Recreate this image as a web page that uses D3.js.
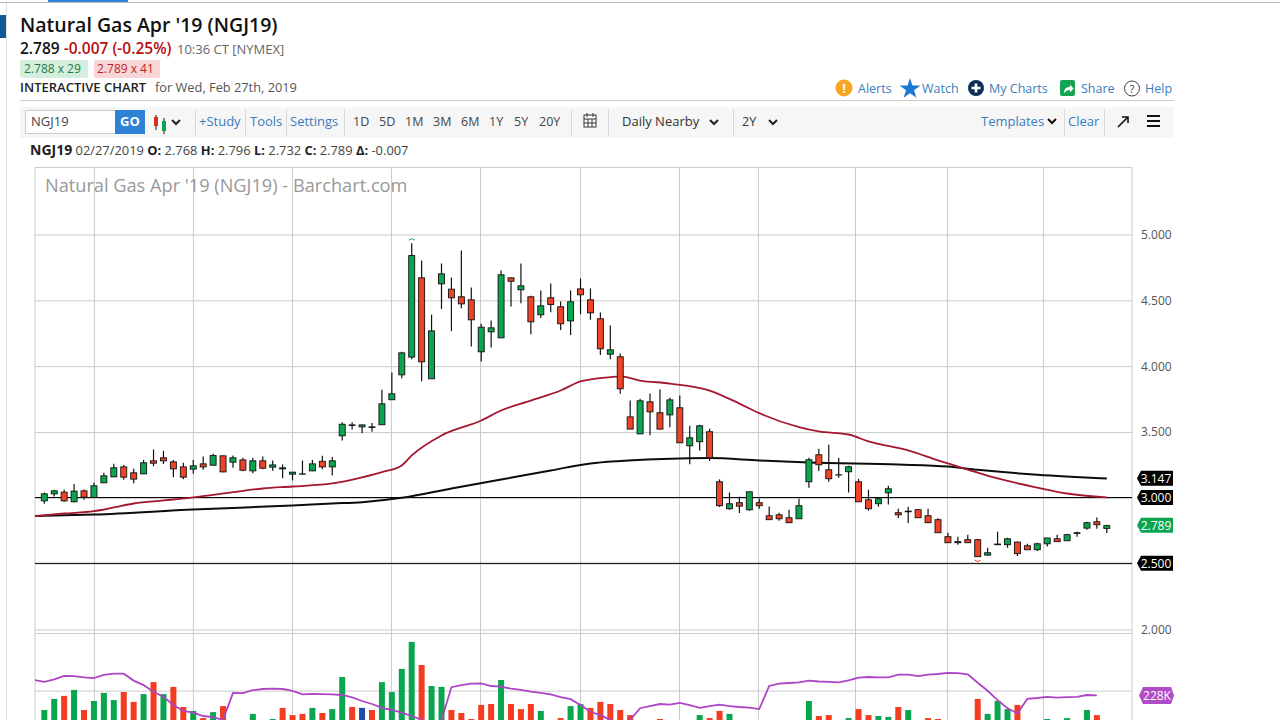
<!DOCTYPE html>
<html>
<head>
<meta charset="utf-8">
<title>NGJ19</title>
<script src="https://cdnjs.cloudflare.com/ajax/libs/d3/7.8.5/d3.min.js"></script>
<style>
  html, body { margin: 0; padding: 0; background: #fff; overflow: hidden; }
  svg { display: block; font-family: "Open Sans", sans-serif; }
  .price-axis path, .price-axis line, .month-grid path, .month-grid line { stroke: #cbcbcb; }
  .price-axis path, .month-grid path { display: none; }
  .price-axis text { font-size: 12px; fill: #555; font-family: "Open Sans", sans-serif; }
  .month-grid text { display: none; }
</style>
</head>
<body>
<svg id="canvas" width="1280" height="720"></svg>
<script>
// daily candles
const opens = [2.977,3.030,3.043,2.970,3.053,3.003,3.114,3.159,3.235,3.190,
  3.182,3.281,3.304,3.273,3.235,3.218,3.258,3.248,3.319,3.271,
  3.288,3.205,3.281,3.233,3.220,3.180,3.180,3.205,3.278,3.235,
  3.471,3.549,3.539,3.534,3.555,3.745,3.934,4.069,4.671,3.904,
  4.625,4.585,4.527,4.504,4.109,4.261,4.215,4.671,4.580,4.527,
  4.390,4.519,4.451,4.344,4.587,4.504,4.360,4.091,4.071,3.615,
  3.486,3.729,3.646,3.630,3.684,3.395,3.426,3.502,3.122,2.917,
  2.963,2.909,2.963,2.864,2.871,2.849,2.841,3.122,3.327,3.213,
  3.173,3.198,3.122,2.985,2.955,3.038,2.887,2.894,2.910,2.864,
  2.834,2.705,2.659,2.682,2.682,2.565,2.644,2.644,2.664,2.636,
  2.606,2.651,2.689,2.674,2.730,2.770,2.818,2.768];
const highs = [3.040,3.061,3.061,3.106,3.063,3.116,3.190,3.258,3.250,3.220,
  3.288,3.367,3.357,3.288,3.266,3.288,3.314,3.334,3.321,3.321,
  3.304,3.304,3.314,3.283,3.253,3.195,3.283,3.288,3.319,3.311,
  3.574,3.574,3.557,3.569,3.820,3.952,4.109,4.934,4.802,4.392,
  4.780,4.673,4.878,4.597,4.322,4.347,4.726,4.673,4.780,4.534,
  4.575,4.628,4.491,4.575,4.666,4.590,4.408,4.309,4.096,3.739,
  3.752,3.792,3.823,3.760,3.777,3.547,3.555,3.524,3.140,3.041,
  3.008,3.046,2.993,2.935,2.887,2.909,2.993,3.304,3.372,3.403,
  3.304,3.243,3.145,3.061,2.999,3.092,2.917,2.932,2.915,2.917,
  2.844,2.735,2.705,2.720,2.687,2.621,2.743,2.697,2.667,2.651,
  2.659,2.697,2.720,2.727,2.743,2.818,2.851,2.796];
const lows = [2.955,3.010,2.970,2.965,2.985,3.000,3.114,3.159,3.137,3.111,
  3.182,3.240,3.256,3.157,3.142,3.182,3.213,3.243,3.195,3.228,
  3.202,3.187,3.218,3.205,3.149,3.132,3.175,3.202,3.218,3.170,
  3.436,3.519,3.491,3.501,3.555,3.745,3.909,4.053,3.886,3.904,
  4.433,4.266,4.440,4.150,4.036,4.142,4.215,4.453,4.478,4.243,
  4.365,4.410,4.274,4.236,4.395,4.352,4.084,4.053,3.790,3.522,
  3.486,3.476,3.517,3.537,3.418,3.256,3.360,3.279,2.930,2.909,
  2.884,2.902,2.917,2.834,2.826,2.811,2.841,3.076,3.203,3.122,
  3.152,3.041,2.970,2.902,2.932,2.950,2.846,2.808,2.849,2.811,
  2.735,2.659,2.644,2.657,2.550,2.560,2.641,2.621,2.558,2.606,
  2.596,2.631,2.667,2.674,2.705,2.758,2.765,2.732];
const closes = [3.030,3.053,2.977,3.051,3.005,3.091,3.167,3.228,3.157,3.142,
  3.266,3.263,3.281,3.220,3.157,3.243,3.235,3.321,3.197,3.304,
  3.210,3.281,3.225,3.250,3.228,3.195,3.182,3.258,3.235,3.281,
  3.559,3.554,3.554,3.539,3.714,3.790,4.101,4.840,4.033,4.268,
  4.701,4.519,4.473,4.352,4.296,4.291,4.694,4.645,4.610,4.337,
  4.458,4.468,4.322,4.489,4.542,4.405,4.132,4.124,3.828,3.522,
  3.737,3.653,3.522,3.744,3.418,3.456,3.547,3.304,2.940,2.955,
  2.937,3.046,2.940,2.834,2.841,2.811,2.940,3.289,3.251,3.145,
  3.175,3.236,2.970,2.917,2.993,3.069,2.871,2.899,2.849,2.811,
  2.735,2.659,2.667,2.659,2.553,2.583,2.649,2.689,2.576,2.606,
  2.651,2.695,2.667,2.720,2.735,2.811,2.796,2.789];

// moving averages, sampled along the curves (bar number, price)
const redMaBars = [-1,2,5,7,9,12,15,19,22,25,29,32,34,36,37,40,44,46,49,52,54,57,58,60,63,67,70,72,76,78,81,83,87,90,93,96,100,103,107];
const redMaValues = [2.861,2.881,2.899,2.927,2.957,2.980,3.003,3.043,3.071,3.086,3.109,3.155,3.195,3.246,3.322,3.474,3.587,3.663,3.739,3.815,3.884,3.916,3.922,3.891,3.868,3.815,3.716,3.643,3.537,3.504,3.481,3.428,3.360,3.284,3.215,3.147,3.078,3.033,3.003];
const blackMaBars = [-1,5,15,25,29,32,36,41,46,51,55,58,64,67,72,77,86,91,94,100,107];
const blackMaValues = [2.861,2.873,2.911,2.942,2.957,2.967,3.000,3.071,3.139,3.208,3.261,3.280,3.299,3.302,3.284,3.268,3.253,3.238,3.213,3.175,3.147];

// volume (thousands) and bar colour, G up R down B unchanged
const volumes = [180,217,227,247,180,210,237,213,240,207,
  233,273,233,257,190,177,153,173,193,130,
  120,167,130,150,187,163,167,187,170,183,
  290,190,187,180,273,240,317,407,330,260,
  257,180,170,150,197,200,280,200,183,200,
  177,130,153,193,200,187,207,200,180,163,
  130,120,150,130,120,130,163,153,177,167,
  130,125,120,120,110,110,125,210,160,163,
  130,153,183,163,160,157,190,180,120,153,
  150,130,110,130,217,167,210,183,197,130,
  130,150,120,153,120,180,163,60];
const volumeDirs = ("GGRGRGGGRR" + "GRGRRGRGRR" + "RGRGRRRGRG" + "GRBRGGGGRG" + "GRRRRRGRRR" +
  "GGRGGRRRRR" + "RRRGRGGRRG" + "RGRRRRGGRR" + "RGRRGGRGRR" + "RRRRRGGGRR" + "GGRGGGRG").split("");

// open interest line, first point sits left of bar 0
const oiValues = [280,274,282,294,293,289,286,297,301,301,278,263,241,224,197,177,171,160,156,147,
  237,236,246,250,251,250,244,232,234,233,232,230,222,210,200,187,180,171,160,147,130,147,
  256,263,268,269,260,258,251,247,241,237,232,223,216,197,174,163,147,125,147,
  186,193,200,198,204,196,187,193,198,193,190,188,183,
  260,268,270,272,278,275,274,272,279,288,290,289,289,298,298,293,298,300,304,303,299,
  271,244,213,186,169,217,220,224,221,223,224,230,229];
const oiFirstBar = -1;

const priceTicks = [2, 2.5, 3, 3.5, 4, 4.5, 5];
// month starts, as bar numbers
const monthBars = [5, 14.97, 24.94, 34.91, 43.88, 53.95, 63.92, 71.88, 81.64, 90.9, 100.57];
const userLevels = [3, 2.5];
const priceTags = [
  { value: 3.147, fill: "#000" },
  { value: 3.0, fill: "#000" },
  { value: 2.789, fill: "#0aa54f" },
  { value: 2.5, fill: "#000" }
];
const oiTag = 228;
const volumeTopLine = 435;
const volumeMidLine = 243;

const rangeLabels = ["1D", "5D", "1M", "3M", "6M", "1Y", "5Y", "20Y"];
const rangeLabelX = [353, 379, 405, 433, 461, 489, 514, 539];

const GREEN = "#0aa54f";
const RED = "#ee4327";
const LINK = "#3a7dbd";
const VOL_COLORS = { G: "#0aa54f", R: "#f43c20", B: "#2249a6" };

const svg = d3.select("#canvas");
const panelLeft = 35, panelRight = 1132, panelTop = 167.5, panelBottom = 720;

const x = d3.scaleLinear().domain([0, 107]).range([44.3, 1106.8]);
const y = d3.scaleLinear().domain([2, 5]).range([629.5, 234.5]);
const yVol = d3.scaleLinear().domain([0, 440]).range([764, 632]);

function label(parent, px, py, str, opts = {}) {
  return parent.append("text")
    .attr("x", px)
    .attr("y", py)
    .attr("font-size", opts.size || 13)
    .attr("font-weight", opts.weight || 400)
    .attr("fill", opts.fill || "#333")
    .attr("text-anchor", opts.anchor || "start")
    .text(str);
}

function chevron(parent, cx, cy, color = "#222") {
  parent.append("path")
    .attr("d", `M${cx - 4} ${cy - 2}L${cx} ${cy + 2}L${cx + 4} ${cy - 2}`)
    .attr("fill", "none")
    .attr("stroke", color)
    .attr("stroke-width", 2);
}

function drawHeader() {
  const g = svg.append("g");
  g.append("rect").attr("x", 0).attr("y", 2).attr("width", 1280).attr("height", 1).attr("fill", "#bbb");
  g.append("rect").attr("x", 48).attr("y", 0).attr("width", 80).attr("height", 2).attr("fill", "#2f86d6");
  g.append("rect").attr("x", 6).attr("y", 3).attr("width", 1).attr("height", 717).attr("fill", "#ddd");
  g.append("rect").attr("x", 0).attr("y", 15).attr("width", 6).attr("height", 23).attr("fill", "#0f5a96");

  label(g, 20, 32, "Natural Gas Apr '19 (NGJ19)", { size: 19.5, weight: 600, fill: "#111" });

  const quote = label(g, 20, 54, "2.789", { size: 15.5, weight: 600, fill: "#111" });
  quote.append("tspan").attr("dx", 4).attr("fill", "#b80f0f").attr("font-weight", 600).text("-0.007 (-0.25%)");
  label(g, 177, 54, "10:36 CT [NYMEX]", { size: 13, fill: "#666" });

  g.append("rect").attr("x", 20).attr("y", 60).attr("width", 68).attr("height", 18).attr("rx", 2).attr("fill", "#d5efdf");
  label(g, 24, 73, "2.788 x 29", { size: 12, fill: "#1d7a45" });
  g.append("rect").attr("x", 94).attr("y", 60).attr("width", 66).attr("height", 18).attr("rx", 2).attr("fill", "#f8d6d8");
  label(g, 97, 73, "2.789 x 41", { size: 12, fill: "#bb1e1e" });

  label(g, 20, 92, "INTERACTIVE CHART", { size: 13, weight: 600, fill: "#222" });
  label(g, 155, 92, "for Wed, Feb 27th, 2019", { size: 12.8, fill: "#555" });
  g.append("rect").attr("x", 20).attr("y", 100).attr("width", 1154).attr("height", 1).attr("fill", "#ccc");

  // right hand links
  g.append("circle").attr("cx", 844).attr("cy", 88).attr("r", 8.5).attr("fill", "#f6a623");
  label(g, 844, 93, "!", { size: 13, weight: 700, fill: "#fff", anchor: "middle" });
  label(g, 858, 93, "Alerts", { size: 12.5, fill: LINK });
  const star = d3.symbol().type(d3.symbolStar).size(135)();
  g.append("path").attr("d", star).attr("transform", "translate(910,89)").attr("fill", "#1e78d2");
  label(g, 922, 93, "Watch", { size: 12.5, fill: LINK });
  g.append("circle").attr("cx", 976).attr("cy", 88).attr("r", 8).attr("fill", "#0c2f57");
  g.append("path").attr("d", "M976 83.5v9M971.5 88h9").attr("stroke", "#fff").attr("stroke-width", 2.6);
  label(g, 989, 93, "My Charts", { size: 12.5, fill: LINK });
  g.append("rect").attr("x", 1060).attr("y", 80).attr("width", 15).attr("height", 16).attr("rx", 2).attr("fill", "#12a554");
  g.append("path").attr("d", "M1064 93c0-4 2-6 6-6v-2.5l3.5 4-3.5 4V90c-3 0-4 1-6 3z").attr("fill", "#fff");
  label(g, 1081, 93, "Share", { size: 12.5, fill: LINK });
  g.append("circle").attr("cx", 1132).attr("cy", 88.5).attr("r", 7.5).attr("fill", "none").attr("stroke", "#444");
  label(g, 1132, 93, "?", { size: 11.5, fill: "#444", anchor: "middle" });
  label(g, 1145, 93, "Help", { size: 12.5, fill: LINK });

  // toolbar
  g.append("rect").attr("x", 20).attr("y", 107).attr("width", 1154).attr("height", 31).attr("fill", "#f6f6f6");
  g.append("rect").attr("x", 25.5).attr("y", 110.5).attr("width", 90).attr("height", 23).attr("fill", "#fff").attr("stroke", "#ccc");
  label(g, 31, 126, "NGJ19", { size: 13, fill: "#444" });
  g.append("rect").attr("x", 115).attr("y", 110).attr("width", 30).attr("height", 24).attr("fill", "#2e82d6");
  label(g, 130, 126, "GO", { size: 13, weight: 700, fill: "#fff", anchor: "middle" });

  // little candles icon
  g.append("path").attr("d", "M156 115v15M164 118v16").attr("stroke", "#111").attr("stroke-width", 1);
  g.append("rect").attr("x", 154).attr("y", 117).attr("width", 4).attr("height", 9).attr("fill", "#d9301c");
  g.append("rect").attr("x", 162).attr("y", 121).attr("width", 4).attr("height", 10).attr("fill", GREEN);
  chevron(g, 176, 122);

  [195, 245, 286, 344, 571, 608, 733, 1064, 1104].forEach(sx => {
    g.append("rect").attr("x", sx).attr("y", 109).attr("width", 1).attr("height", 27).attr("fill", "#d8d8d8");
  });

  label(g, 199, 126, "+Study", { size: 13, fill: LINK });
  label(g, 250, 126, "Tools", { size: 13, fill: LINK });
  label(g, 290, 126, "Settings", { size: 13, fill: LINK });
  rangeLabels.forEach((t, i) => label(g, rangeLabelX[i], 126, t, { size: 12.5, fill: "#444" }));

  // calendar
  g.append("rect").attr("x", 584).attr("y", 115).attr("width", 12).attr("height", 12).attr("fill", "#fff").attr("stroke", "#333");
  g.append("path").attr("d", "M587 113v4M593 113v4M584 119h12M588 119v8M592 119v8M584 123h12").attr("stroke", "#333").attr("fill", "none");

  label(g, 622, 126, "Daily Nearby", { size: 13, fill: "#333" });
  chevron(g, 714, 122);
  label(g, 742, 126, "2Y", { size: 12.5, fill: "#333" });
  chevron(g, 773, 122);
  label(g, 981, 126, "Templates", { size: 13, fill: LINK });
  chevron(g, 1052, 121, "#111");
  label(g, 1068, 126, "Clear", { size: 13, fill: LINK });
  g.append("path").attr("d", "M1118 127L1127 118M1122 117h6v6").attr("stroke", "#111").attr("stroke-width", 1.6).attr("fill", "none");
  g.append("path").attr("d", "M1147 116h13M1147 121h13M1147 126h13").attr("stroke", "#111").attr("stroke-width", 2.2);

  // OHLC line
  const row = label(g, 30, 155, "NGJ19", { size: 14, weight: 700, fill: "#222" });
  const parts = [[" 02/27/2019 ", 0], ["O:", 1], [" 2.768 ", 0], ["H:", 1], [" 2.796 ", 0], ["L:", 1], [" 2.732 ", 0], ["C:", 1], [" 2.789 ", 0], ["Δ:", 1], [" -0.007", 0]];
  parts.forEach(([t, b]) => {
    row.append("tspan").attr("font-size", 12.9).attr("font-weight", b ? 700 : 400).attr("fill", b ? "#222" : "#444").attr("xml:space", "preserve").text(t);
  });
}

function drawPanel() {
  svg.append("defs").append("clipPath").attr("id", "panel-clip")
    .append("rect").attr("x", panelLeft).attr("y", panelTop).attr("width", panelRight - panelLeft).attr("height", panelBottom - panelTop);

  // month grid through both panes
  svg.append("g").attr("class", "month-grid")
    .attr("transform", `translate(0,${panelBottom})`)
    .call(d3.axisBottom(x).tickValues(monthBars).tickSize(-(panelBottom - panelTop)));

  svg.append("g").attr("class", "price-axis")
    .attr("transform", `translate(${panelRight},0)`)
    .call(d3.axisRight(y).tickValues(priceTicks).tickSize(-(panelRight - panelLeft)).tickPadding(9).tickFormat(d3.format(".3f")));

  // frame and the volume pane's own lines
  svg.append("path")
    .attr("d", `M${panelLeft} ${panelBottom}V${panelTop}H${panelRight}V${panelBottom}`)
    .attr("fill", "none").attr("stroke", "#cbcbcb");
  [volumeTopLine, volumeMidLine].forEach(v => {
    svg.append("line").attr("x1", panelLeft).attr("x2", panelRight).attr("y1", yVol(v)).attr("y2", yVol(v)).attr("stroke", "#cbcbcb");
  });

  label(svg, 45, 192, "Natural Gas Apr '19 (NGJ19) - Barchart.com", { size: 18.2, fill: "#999" });
}

function drawVolume() {
  svg.append("g").attr("clip-path", "url(#panel-clip)")
    .selectAll("rect")
    .data(volumes)
    .enter()
    .append("rect")
    .attr("x", (d, i) => x(i) - 3)
    .attr("width", 6)
    .attr("y", d => yVol(d))
    .attr("height", d => yVol(0) - yVol(d))
    .attr("fill", (d, i) => VOL_COLORS[volumeDirs[i]]);

  const oiLine = d3.line()
    .x((d, i) => x(i + oiFirstBar))
    .y(d => yVol(d));
  svg.append("path")
    .attr("clip-path", "url(#panel-clip)")
    .attr("d", oiLine(oiValues))
    .attr("fill", "none")
    .attr("stroke", "#ad45c6")
    .attr("stroke-width", 1.8);
}

function drawCandles() {
  const g = svg.append("g").attr("clip-path", "url(#panel-clip)");

  g.selectAll("line.level")
    .data(userLevels)
    .enter()
    .append("line")
    .attr("class", "level")
    .attr("x1", panelLeft).attr("x2", panelRight)
    .attr("y1", d => y(d) - 0.3).attr("y2", d => y(d) - 0.3)
    .attr("stroke", "#000").attr("stroke-width", 1);

  const maLine = d3.line().curve(d3.curveMonotoneX)
    .x(d => x(d[0]))
    .y(d => y(d[1]));
  g.append("path")
    .attr("d", maLine(d3.zip(blackMaBars, blackMaValues)))
    .attr("fill", "none").attr("stroke", "#0c0c0c").attr("stroke-width", 2);
  g.append("path")
    .attr("d", maLine(d3.zip(redMaBars, redMaValues)))
    .attr("fill", "none").attr("stroke", "#a3182e").attr("stroke-width", 1.8);

  const candle = g.selectAll("g.candle")
    .data(opens)
    .enter()
    .append("g")
    .attr("class", "candle");
  candle.append("line")
    .attr("x1", (d, i) => x(i)).attr("x2", (d, i) => x(i))
    .attr("y1", (d, i) => y(highs[i])).attr("y2", (d, i) => y(lows[i]))
    .attr("stroke", "#111").attr("stroke-width", 1.2);
  candle.append("rect")
    .attr("x", (d, i) => x(i) - 3)
    .attr("width", 6)
    .attr("y", (d, i) => y(Math.max(d, closes[i])))
    .attr("height", (d, i) => Math.abs(y(d) - y(closes[i])))
    .attr("fill", (d, i) => (closes[i] >= d ? GREEN : RED))
    .attr("stroke", "#111").attr("stroke-width", 0.9);

  // high and low markers
  const hi = d3.maxIndex(highs);
  const lo = d3.minIndex(lows);
  g.append("path")
    .attr("d", `M${x(hi) - 3} ${y(highs[hi]) - 3}Q${x(hi)} ${y(highs[hi]) - 6} ${x(hi) + 3} ${y(highs[hi]) - 3}`)
    .attr("fill", "none").attr("stroke", GREEN);
  g.append("path")
    .attr("d", `M${x(lo) - 3} ${y(lows[lo]) + 3}Q${x(lo)} ${y(lows[lo]) + 6} ${x(lo) + 3} ${y(lows[lo]) + 3}`)
    .attr("fill", "none").attr("stroke", RED);
}

function drawTags() {
  priceTags.forEach(({ value, fill }) => {
    const py = y(value) - 0.3;
    svg.append("path")
      .attr("d", `M1137 ${py}L1141 ${py - 7.5}H1173V${py + 7.5}H1141Z`)
      .attr("fill", fill);
    label(svg, 1156, py + 4.5, d3.format(".3f")(value), { size: 12, fill: "#fff", anchor: "middle" });
  });
  const py = yVol(oiTag);
  svg.append("path")
    .attr("d", `M1139 ${py}L1143 ${py - 8.5}H1171L1174 ${py}L1171 ${py + 8.5}H1143Z`)
    .attr("fill", "#b14bc6");
  label(svg, 1157, py + 4.5, `${oiTag}K`, { size: 12, fill: "#fff", anchor: "middle" });
}

function main() {
  drawHeader();
  drawPanel();
  drawVolume();
  drawCandles();
  drawTags();
}

main();
</script>
</body>
</html>
